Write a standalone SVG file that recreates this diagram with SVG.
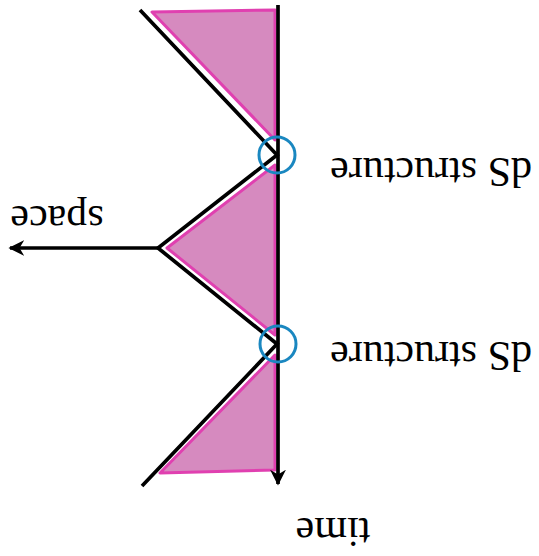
<svg xmlns="http://www.w3.org/2000/svg" width="539" height="556" viewBox="0 0 539 556">
<defs>
<style>
.tri{fill:#d68abf;stroke:#e040b0;stroke-width:3;stroke-linejoin:round}
.ln{fill:none;stroke:#000;stroke-width:3.7}
.ring{fill:none;stroke:#1a87c0;stroke-width:3}
.lbl{font-family:"Liberation Serif",serif;font-size:42px;fill:#000;text-anchor:middle}
</style>
<marker id="ah" viewBox="0 0 10 10" refX="9" refY="5" markerWidth="4.3" markerHeight="4.3" markerUnits="strokeWidth" orient="auto">
<path d="M0,0 L10,5 L0,10 L3,5 Z" fill="#000"/>
</marker>
</defs>
<rect width="539" height="556" fill="#fff"/>
<g id="wedge-top"><polygon class="tri" points="152,12 275,10 275,140"/></g>
<g id="wedge-mid"><polygon class="tri" points="275,165 167,248 275,335"/></g>
<g id="wedge-bot"><polygon class="tri" points="275,355 160,473 275,470"/></g>
<g id="connectors">
<line class="ln" x1="278" y1="5" x2="278" y2="484" marker-end="url(#ah)"/>
<polyline class="ln" points="140,10 277,155 158,248 277,344 142,486"/>
<line class="ln" x1="158" y1="248" x2="10" y2="248" marker-end="url(#ah)"/>
</g>
<g id="ds1"><circle class="ring" cx="277" cy="155" r="18"/></g>
<g id="ds2"><circle class="ring" cx="278" cy="344" r="18"/></g>
<g id="labels">
<text class="lbl" x="431" y="186" transform="rotate(180 431 172)">dS structure</text>
<text class="lbl" x="431" y="370" transform="rotate(180 431 356)">dS structure</text>
<text class="lbl" x="57" y="216" transform="rotate(180 57 211)">space</text>
<text class="lbl" x="333" y="530" transform="rotate(180 333 524)">time</text>
</g>
</svg>
